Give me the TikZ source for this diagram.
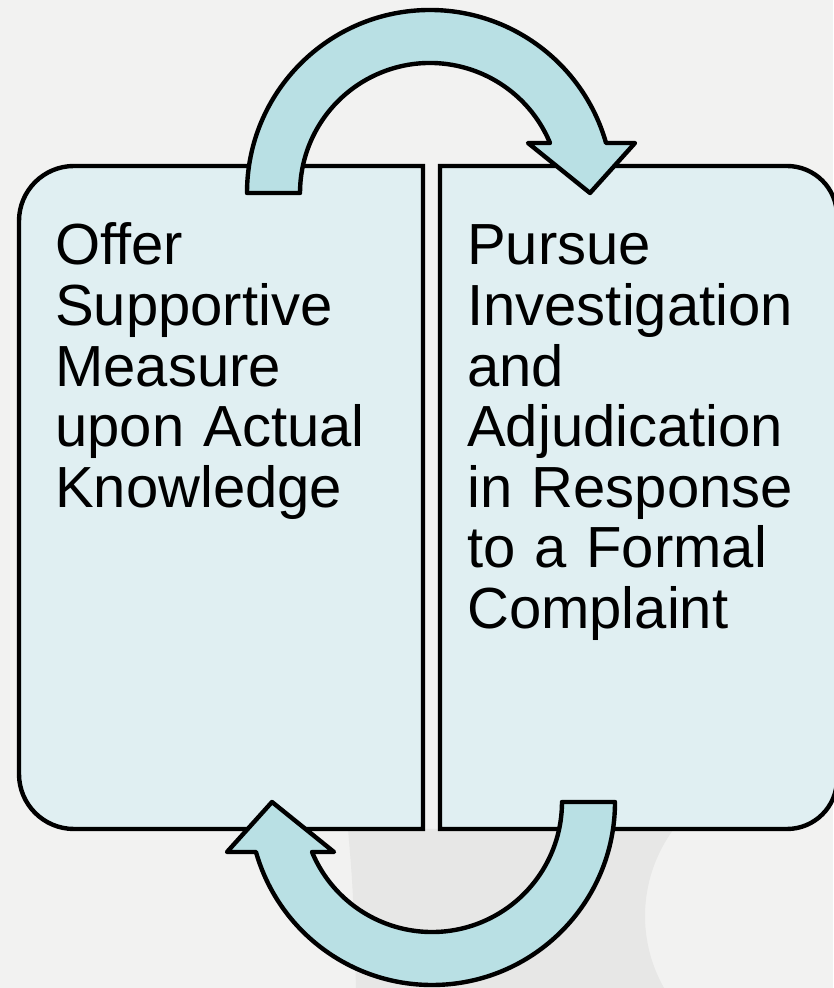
\documentclass[tikz,border=0pt]{standalone}
\usepackage{fontspec}
\setmainfont{Liberation Sans}
\definecolor{fond}{RGB}{242,242,241}
\definecolor{ombre}{RGB}{231,231,230}
\definecolor{boitebleu}{RGB}{224,239,242}
\definecolor{flechebleu}{RGB}{185,224,228}
% one circular arrow, centred on its circle
\newcommand{\bouclefleche}{(-183,0) arc[start angle=180, end angle=15.85, radius=183]
  -- (205,50) -- (160,0) -- (98,50) -- (120,50)
  arc[start angle=22.62, end angle=180, radius=130] -- cycle}

\begin{document}
\begin{tikzpicture}[x=0.75pt, y=0.75pt]
\tikzset{panneau/.style={draw=black, line width=3.3pt, fill=boitebleu},
  fleche/.style={draw=black, line width=3.3pt, fill=flechebleu, line join=round},
  texte/.style={anchor=base west, inner sep=0pt, text width=300pt, align=left,
    font=\fontsize{43.5pt}{45.4pt}\selectfont}}
\useasboundingbox (0,0) rectangle (833,988);
\fill[fond] (0,0) rectangle (833,988);
\fill[ombre] (348,159) .. controls (353,100) .. (356,0) -- (664,0)
  arc[start angle=209.55, end angle=143.4, radius=146] -- cycle;
% the two panels
\draw[panneau] (423,822) -- (74,822) arc[start angle=90, end angle=180, radius=55]
  -- (19,214) arc[start angle=180, end angle=270, radius=55] -- (423,159) -- cycle;
\draw[panneau] (440,159) -- (440,822) -- (787,822) arc[start angle=90, end angle=0, radius=50]
  -- (837,209) arc[start angle=0, end angle=-90, radius=50] -- cycle;
\node[texte] (T1) at (55,723) {Offer\\ Supportive\\ Measure\\ upon Actual\\ Knowledge};
\node[texte] (T2) at (467,723) {Pursue\\ Investigation\\ and\\ Adjudication\\ in Response\\ to a Formal\\ Complaint};
% arrows
\draw[fleche, shift={(430,795)}] \bouclefleche;
\draw[fleche, shift={(432,186)}, rotate=180] \bouclefleche;
\end{tikzpicture}
\end{document}
